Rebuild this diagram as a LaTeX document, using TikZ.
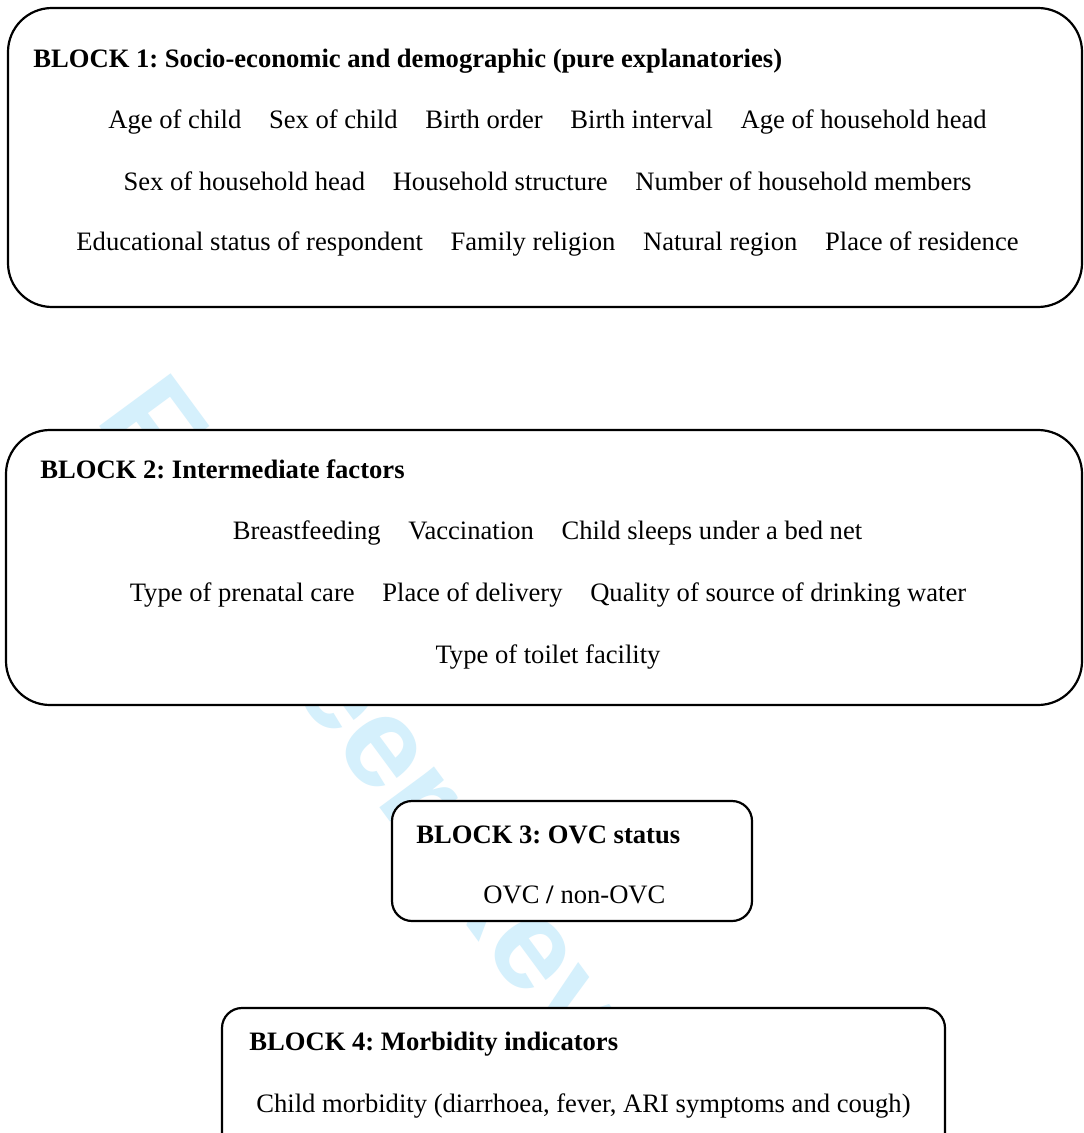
\documentclass[tikz,border=0pt]{standalone}
\usepackage{fontspec}
\setmainfont{Liberation Serif}
\newfontfamily\wmfont{Liberation Sans}
\definecolor{wmblue}{RGB}{213,240,252}
\frenchspacing
\tikzset{
  blockbox/.style={draw=black, line width=1.1pt, fill=white},
  bigcorner/.style={rounded corners=22pt},
  smallcorner/.style={rounded corners=10pt},
  hdr/.style={inner sep=0pt, anchor=base west, font=\fontsize{13.3}{16}\selectfont\bfseries},
  row/.style={inner sep=0pt, anchor=base, font=\fontsize{13.3}{16}\selectfont},
  rowl/.style={inner sep=0pt, anchor=base west, font=\fontsize{13.3}{16}\selectfont},
  watermark/.style={inner sep=0pt, anchor=base west, rotate=-53.6, text=wmblue,
    font=\wmfont\bfseries\fontsize{64.5}{70}\selectfont}
}
\newcommand{\gp}{\hspace{1.04em}}
\begin{document}
\frenchspacing
\begin{tikzpicture}[x=0.5pt, y=-0.5pt]
\path[use as bounding box] (0,0) rectangle (1083,1133);
\clip (0,0) rectangle (1083,1133);
\fill[white] (0,0) rectangle (1083,1133);

% watermark
\node[watermark] (wm) at (94,419) {For Peer Review};

% BLOCK 1
\draw[blockbox, bigcorner] (8,8) rectangle (1082,307);
\node[hdr] (h1) at (33,68) {BLOCK 1: Socio-economic and demographic (pure explanatories)};
\node[row] (r11) at (547.5,129) {Age of child\gp Sex of child\gp Birth order\gp Birth interval\gp Age of household head};
\node[row] (r12) at (547.5,191) {Sex of household head\gp Household structure\gp Number of household members};
\node[row] (r13) at (547.5,251) {Educational status of respondent\gp Family religion\gp Natural region\gp Place of residence};

% BLOCK 2
\draw[blockbox, bigcorner] (6,430) rectangle (1082,705);
\node[hdr] (h2) at (40,478) {BLOCK 2: Intermediate factors};
\node[row] (r21) at (547.5,539) {Breastfeeding\gp Vaccination\gp Child sleeps under a bed net};
\node[row] (r22) at (548,601) {Type of prenatal care\gp Place of delivery\gp Quality of source of drinking water};
\node[row] (r23) at (548,663) {Type of toilet facility};

% BLOCK 3
\draw[blockbox, smallcorner] (392,801) rectangle (752,921);
\node[hdr] (h3) at (416,843) {BLOCK 3: OVC status};
\node[rowl] (r31) at (483,903) {OVC \textbf{/} non-OVC};

% BLOCK 4
\draw[blockbox, smallcorner] (222,1008) rectangle (945,1170);
\node[hdr] (h4) at (249,1050) {BLOCK 4: Morbidity indicators};
\node[rowl] (r41) at (256,1112) {Child morbidity (diarrhoea, fever, ARI symptoms and cough)};
\end{tikzpicture}
\end{document}
